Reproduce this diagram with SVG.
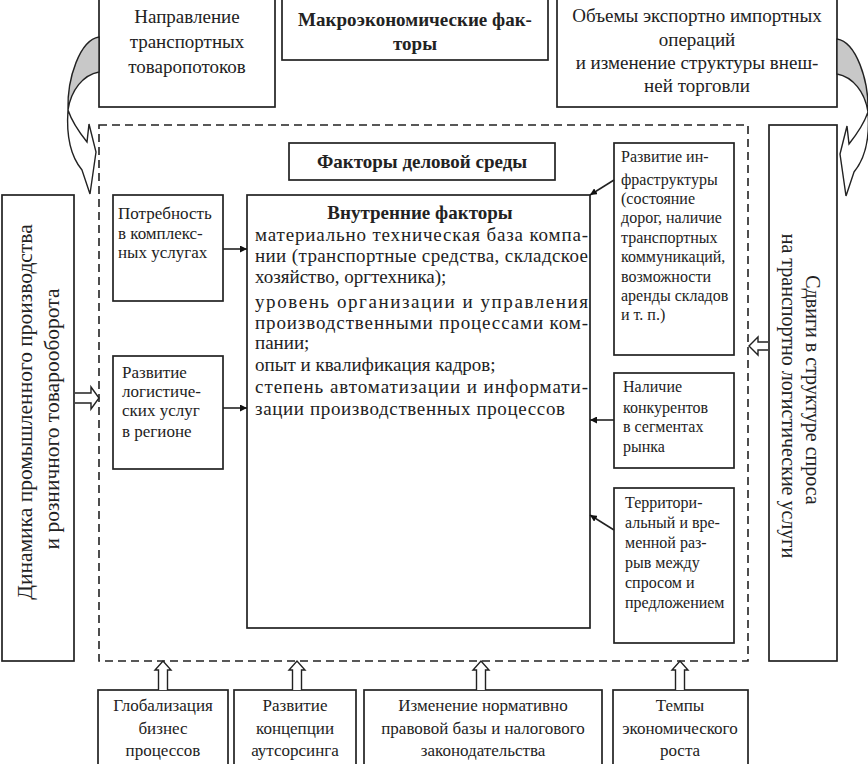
<svg xmlns="http://www.w3.org/2000/svg" width="868" height="764" viewBox="0 0 868 764">
<style>
.box{fill:#fff;stroke:#222;stroke-width:1.7}
.dash{fill:none;stroke:#222;stroke-width:1.6;stroke-dasharray:8 5}
text{font-family:"Liberation Serif","Times New Roman",serif;fill:#222}
.t19{font-size:19px}
.t17{font-size:17px}
.t16{font-size:16px}
.b{font-weight:bold}
.c{text-anchor:middle}
.con{fill:none;stroke:#222;stroke-width:1.6}
.hollow{fill:#fff;stroke:#222;stroke-width:1.4}
.curve{stroke:#222;stroke-width:1.4}
</style>
<defs>
<marker id="ah" viewBox="0 0 10 10" refX="10" refY="5" markerWidth="7" markerHeight="7" markerUnits="userSpaceOnUse" orient="auto">
<path d="M0,0 L10,5 L0,10 Z" fill="#111"/>
</marker>
</defs>
<rect width="868" height="764" fill="#fff"/>

<g id="dashed-frame"><rect class="dash" x="99" y="125" width="649" height="536"/></g>

<g id="n-napravlenie">
<rect class="box" x="99" y="-2" width="176" height="109"/>
<text class="t19 c" x="187" y="23">Направление</text>
<text class="t19 c" x="187" y="48">транспортных</text>
<text class="t19 c" x="187" y="73">товаропотоков</text>
</g>
<g id="n-macro">
<rect class="box" x="282" y="-2" width="266" height="62"/>
<text class="t19 b c" x="415" y="26">Макроэкономические фак-</text>
<text class="t19 b c" x="415" y="50">торы</text>
</g>
<g id="n-export">
<rect class="box" x="557" y="-2" width="280" height="109"/>
<text class="t19 c" x="697" y="22">Объемы экспортно импортных</text>
<text class="t19 c" x="697" y="46">операций</text>
<text class="t19 c" x="697" y="69">и изменение структуры внеш-</text>
<text class="t19 c" x="697" y="92">ней торговли</text>
</g>

<g id="n-dinamika">
<rect class="box" x="2" y="195" width="72" height="466"/>
<text class="c" style="font-size:21.5px" transform="translate(32,412) rotate(-90)">Динамика промышленного производства</text>
<text class="c" style="font-size:21.5px" transform="translate(59,419) rotate(-90)">и розничного товарооборота</text>
</g>
<g id="n-sdvigi">
<rect class="box" x="769" y="125" width="68" height="536"/>
<text class="c" style="font-size:20px" transform="translate(806,390) rotate(90)">Сдвиги в структуре спроса</text>
<text class="c" style="font-size:20px" transform="translate(782,396) rotate(90)">на транспортно логистические услуги</text>
</g>

<g id="n-delovoy">
<rect class="box" x="289" y="143" width="266" height="37"/>
<text class="t19 b c" x="422" y="168">Факторы деловой среды</text>
</g>

<g id="n-potrebnost">
<rect class="box" x="113" y="195" width="110" height="106"/>
<text class="t17" x="118" y="219">Потребность</text>
<text class="t17" x="118" y="239">в комплекс-</text>
<text class="t17" x="118" y="258">ных услугах</text>
</g>
<g id="n-razvitie-log">
<rect class="box" x="113" y="356" width="110" height="113"/>
<text class="t17" x="122" y="378">Развитие</text>
<text class="t17" x="122" y="397">логистиче-</text>
<text class="t17" x="122" y="416">ских услуг</text>
<text class="t17" x="122" y="437">в регионе</text>
</g>

<g id="n-vnutr">
<rect class="box" x="247" y="195" width="343" height="433"/>
<text class="t19 b c" x="420" y="219">Внутренние факторы</text>
<text class="t19" x="255" y="241" textLength="333" lengthAdjust="spacing">материально техническая база компа-</text>
<text class="t19" x="255" y="262" textLength="333" lengthAdjust="spacing">нии (транспортные средства, складское</text>
<text class="t19" x="255" y="283">хозяйство, оргтехника);</text>
<text class="t19" x="255" y="308" textLength="333" lengthAdjust="spacing">уровень организации и управления</text>
<text class="t19" x="255" y="329" textLength="333" lengthAdjust="spacing">производственными процессами ком-</text>
<text class="t19" x="255" y="349">пании;</text>
<text class="t19" x="255" y="371">опыт и квалификация кадров;</text>
<text class="t19" x="255" y="393" textLength="333" lengthAdjust="spacing">степень автоматизации и информати-</text>
<text class="t19" x="255" y="415" textLength="310" lengthAdjust="spacing">зации производственных процессов</text>
</g>

<g id="n-infra">
<rect class="box" x="614" y="143" width="120" height="212"/>
<text class="t16" x="621" y="162">Развитие ин-</text>
<text class="t16" x="621" y="185">фраструктуры</text>
<text class="t16" x="621" y="204">(состояние</text>
<text class="t16" x="621" y="223">дорог, наличие</text>
<text class="t16" x="621" y="243">транспортных</text>
<text class="t16" x="621" y="262">коммуникаций,</text>
<text class="t16" x="621" y="282">возможности</text>
<text class="t16" x="621" y="301">аренды складов</text>
<text class="t16" x="621" y="320">и т. п.)</text>
</g>
<g id="n-konkurent">
<rect class="box" x="614" y="373" width="120" height="95"/>
<text class="t16" x="623" y="392">Наличие</text>
<text class="t16" x="623" y="413">конкурентов</text>
<text class="t16" x="623" y="432">в сегментах</text>
<text class="t16" x="623" y="452">рынка</text>
</g>
<g id="n-territ">
<rect class="box" x="614" y="488" width="120" height="155"/>
<text class="t16" x="625" y="508">Территори-</text>
<text class="t16" x="625" y="528">альный и вре-</text>
<text class="t16" x="625" y="548">менной раз-</text>
<text class="t16" x="625" y="568">рыв между</text>
<text class="t16" x="625" y="588">спросом и</text>
<text class="t16" x="625" y="608">предложением</text>
</g>

<g id="n-global">
<rect class="box" x="98" y="690" width="130" height="80"/>
<text class="t17 c" x="163" y="711">Глобализация</text>
<text class="t17 c" x="163" y="734">бизнес</text>
<text class="t17 c" x="163" y="756">процессов</text>
</g>
<g id="n-autsors">
<rect class="box" x="234" y="690" width="122" height="80"/>
<text class="t17 c" x="295" y="711">Развитие</text>
<text class="t17 c" x="295" y="734">концепции</text>
<text class="t17 c" x="295" y="756">аутсорсинга</text>
</g>
<g id="n-normativ">
<rect class="box" x="364" y="690" width="238" height="80"/>
<text class="t17 c" x="483" y="711">Изменение нормативно</text>
<text class="t17 c" x="483" y="734">правовой базы и налогового</text>
<text class="t17 c" x="483" y="756">законодательства</text>
</g>
<g id="n-tempy">
<rect class="box" x="613" y="690" width="135" height="80"/>
<text class="t17 c" x="680" y="711">Темпы</text>
<text class="t17 c" x="680" y="734">экономического</text>
<text class="t17 c" x="680" y="756">роста</text>
</g>

<g id="connectors">
<line class="con" x1="223" y1="249" x2="247" y2="249" marker-end="url(#ah)"/>
<line class="con" x1="223" y1="408" x2="247" y2="408" marker-end="url(#ah)"/>
<line class="con" x1="614" y1="180" x2="590" y2="195" marker-end="url(#ah)"/>
<line class="con" x1="614" y1="420" x2="590" y2="420" marker-end="url(#ah)"/>
<line class="con" x1="614" y1="530" x2="590" y2="515" marker-end="url(#ah)"/>
<path class="hollow" d="M75,393 L91,393 L91,387 L99,398 L91,409 L91,403 L75,403"/>
<path class="hollow" d="M768,342 L758,342 L758,337 L749,346 L758,355 L758,350 L768,350"/>
<path class="hollow" d="M158.5,690 L158.5,670 L155,670 L163,661 L171,670 L167.5,670 L167.5,690"/>
<path class="hollow" d="M292.5,690 L292.5,670 L289,670 L297,661 L305,670 L301.5,670 L301.5,690"/>
<path class="hollow" d="M476.5,690 L476.5,670 L473,670 L481,661 L489,670 L485.5,670 L485.5,690"/>
<path class="hollow" d="M675.5,690 L675.5,670 L672,670 L680,661 L688,670 L684.5,670 L684.5,690"/>
<g id="curve-left">
<path class="curve" fill="#fff" d="M68,110 C66,138 72,158 82,170 L90,194 L96,152 L89,124 L87,142 C79,132 72,122 68,110 Z"/>
<path class="curve" fill="#c8c8c8" d="M99,37 C80,40 67,78 68,110 C71,90 83,75 99,72 Z"/>
</g>
<g id="curve-right" transform="translate(936,2) scale(-1,1)">
<path class="curve" fill="#fff" d="M68,110 C66,138 72,158 82,170 L90,194 L96,152 L89,124 L87,142 C79,132 72,122 68,110 Z"/>
<path class="curve" fill="#c8c8c8" d="M99,37 C80,40 67,78 68,110 C71,90 83,75 99,72 Z"/>
</g>
</g>
</svg>
